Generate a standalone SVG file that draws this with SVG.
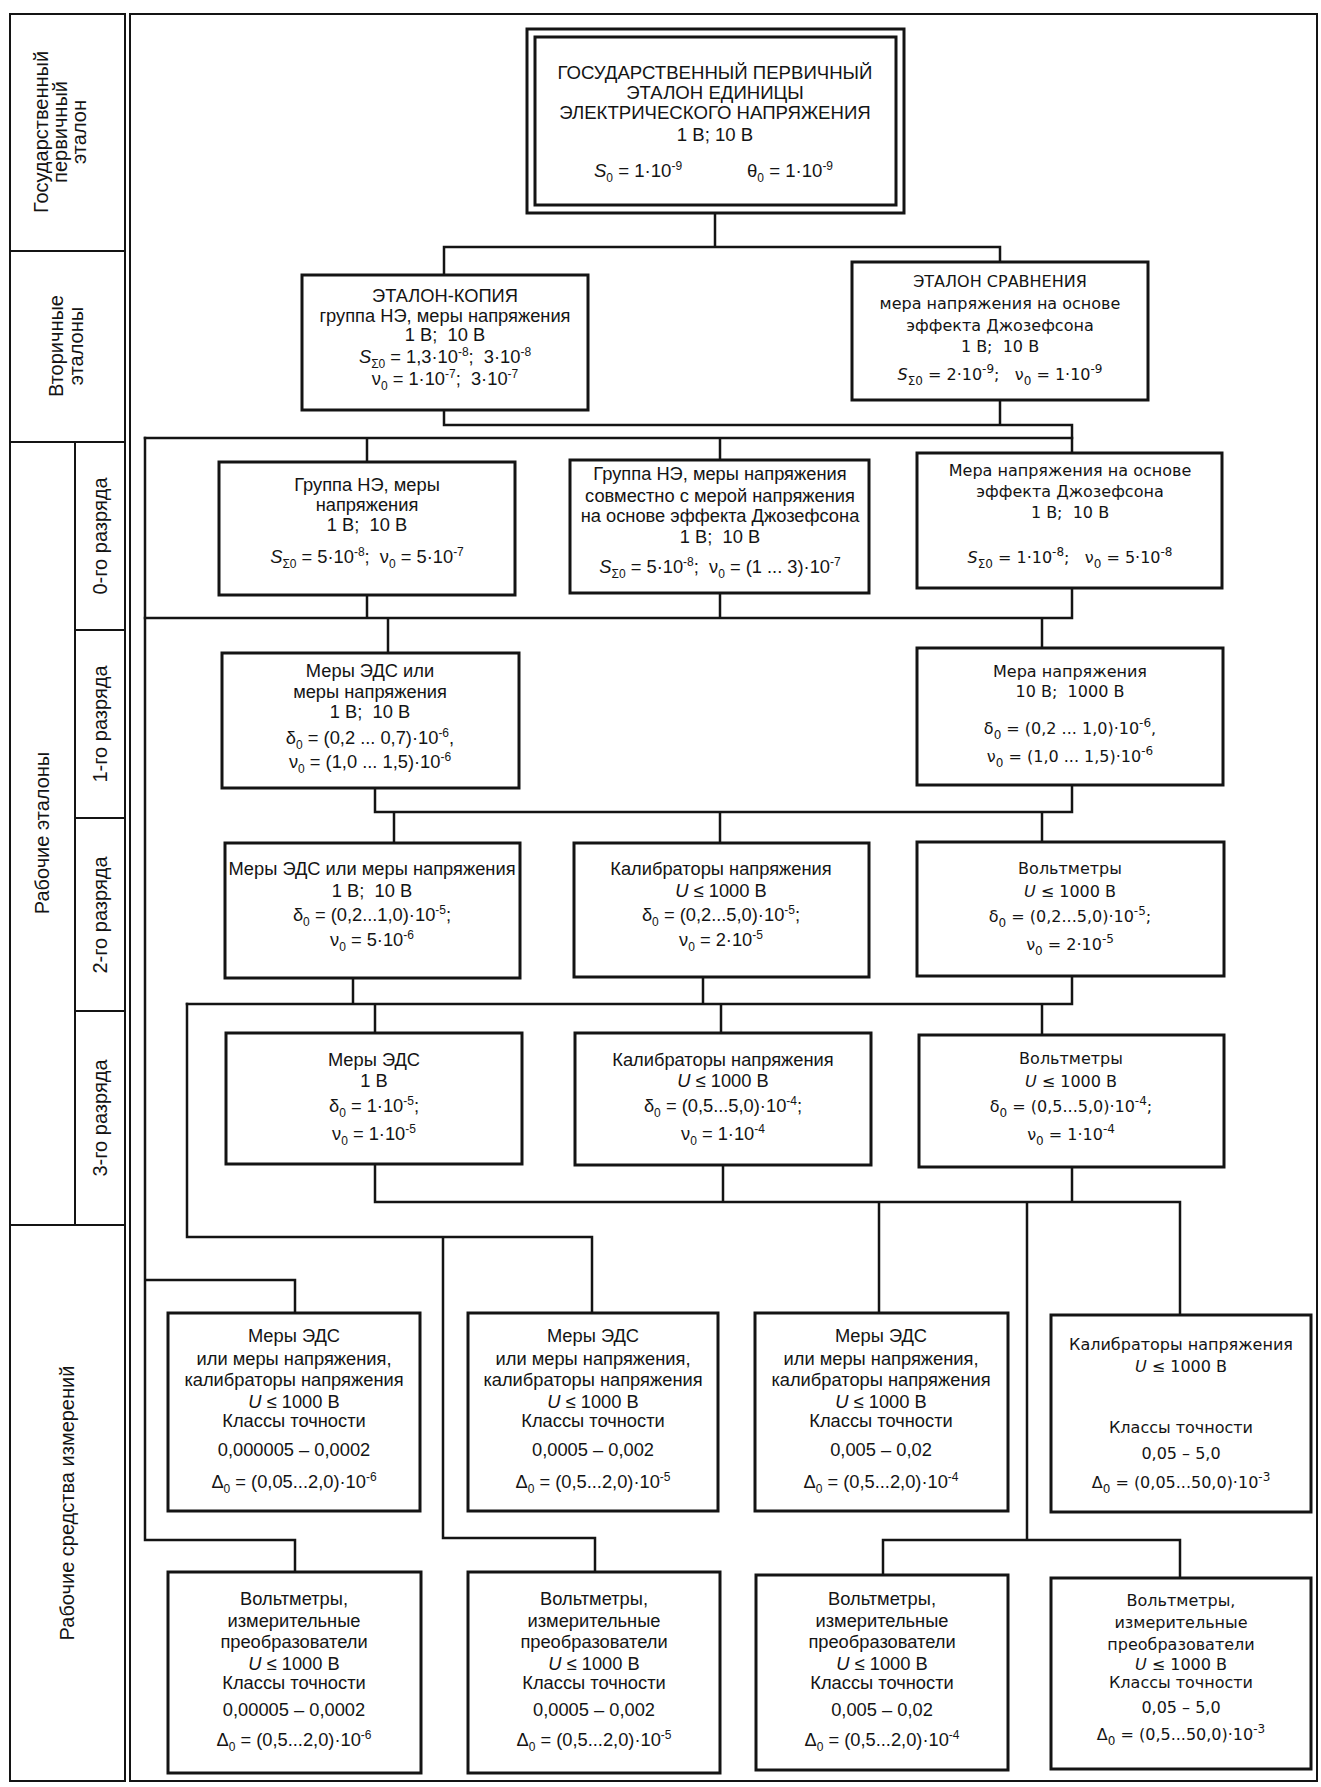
<svg xmlns="http://www.w3.org/2000/svg" width="1321" height="1787" viewBox="0 0 1321 1787">
<style>
text{font-family:"Liberation Sans",Arial,sans-serif;fill:#141414;text-anchor:middle}
.bx{fill:#fff;stroke:#141414;stroke-width:3}
.cn{fill:none;stroke:#141414;stroke-width:2.5;stroke-linecap:square}
.fr{fill:none;stroke:#141414;stroke-width:2}
.t{font-size:18.3px}
.tt{font-size:18.6px}
.w{font-family:"DejaVu Sans",sans-serif;font-size:16px}
.lc{font-size:20px}
.sp{font-size:12px;baseline-shift:7px}
.sb{font-size:12px;baseline-shift:-5px}
.i{font-style:italic}
</style>
<rect x="0" y="0" width="1321" height="1787" fill="#fff"/>
<g id="frame">
<rect class="fr" x="10" y="14" width="115" height="1767"/>
<rect class="fr" x="130" y="14" width="1187" height="1767"/>
<path class="fr" d="M10,251H125M10,442H125M75,442V1225M75,630H125M75,818H125M75,1011H125M10,1225H125"/>
<text class="lc" transform="translate(60,132) rotate(-90)"><tspan x="0" y="-12">Государственный</tspan><tspan x="0" y="7">первичный</tspan><tspan x="0" y="26">эталон</tspan></text>
<text class="lc" transform="translate(67,346) rotate(-90)"><tspan x="0" y="-4">Вторичные</tspan><tspan x="0" y="16">эталоны</tspan></text>
<text class="lc" transform="translate(42,833) rotate(-90)" y="7">Рабочие эталоны</text>
<text class="lc" transform="translate(100,536) rotate(-90)" y="7">0-го разряда</text>
<text class="lc" transform="translate(100,724) rotate(-90)" y="7">1-го разряда</text>
<text class="lc" transform="translate(100,915) rotate(-90)" y="7">2-го разряда</text>
<text class="lc" transform="translate(100,1118) rotate(-90)" y="7">3-го разряда</text>
<text class="lc" transform="translate(67,1503) rotate(-90)" y="7">Рабочие средства измерений</text>
</g>
<g id="connectors">
<path class="cn" d="M715,213V247M444,247H1000M444,247V275M1000,247V262"/>
<path class="cn" d="M444,410V425M1000,400V425M444,425H1072V453"/>
<path class="cn" d="M145,438H1072M367,438V462M720,438V460"/>
<path class="cn" d="M145,438V1540H295V1572M145,1280H295V1313"/>
<path class="cn" d="M367,595V618M720,593V618M1072,588V618M145,618H1072M388,618V653M1042,618V648"/>
<path class="cn" d="M375,788V812M1072,785V812M375,812H1072M394,812V843M720,812V843M1042,812V842"/>
<path class="cn" d="M353,978V1004M703,977V1004M1072,976V1004M187,1004H1072M375,1004V1033M721,1004V1033M1042,1004V1035"/>
<path class="cn" d="M187,1004V1237H592V1313M443,1237V1538H595V1572"/>
<path class="cn" d="M375,1164V1202M723,1165V1202M1072,1167V1202M375,1202H1180V1315M879,1202V1313M1027,1202V1540M883,1540H1180V1578M883,1540V1575"/>
</g>
<g id="n-primary">
<rect class="bx" x="527" y="29" width="377" height="184"/>
<rect class="bx" x="535" y="37" width="361" height="168" stroke-width="2.5"/>
<text class="tt" x="715" y="79">ГОСУДАРСТВЕННЫЙ ПЕРВИЧНЫЙ</text>
<text class="tt" x="715" y="99">ЭТАЛОН ЕДИНИЦЫ</text>
<text class="tt" x="715" y="119">ЭЛЕКТРИЧЕСКОГО НАПРЯЖЕНИЯ</text>
<text class="tt" x="715" y="141">1 В; 10 В</text>
<text class="tt" x="638" y="177"><tspan class="i">S</tspan><tspan class="sb">0</tspan> = 1·10<tspan class="sp">-9</tspan></text>
<text class="tt" x="790" y="177">θ<tspan class="sb">0</tspan> = 1·10<tspan class="sp">-9</tspan></text>
</g>
<g id="n-copy">
<rect class="bx" x="302" y="275" width="286" height="135"/>
<text class="t" x="445" y="302">ЭТАЛОН-КОПИЯ</text>
<text class="t" x="445" y="322">группа НЭ, меры напряжения</text>
<text class="t" x="445" y="341">1 В;&#160; 10 В</text>
<text class="t" x="445" y="363"><tspan class="i">S</tspan><tspan class="sb">Σ0</tspan> = 1,3·10<tspan class="sp">-8</tspan>;&#160; 3·10<tspan class="sp">-8</tspan></text>
<text class="t" x="445" y="385">ν<tspan class="sb">0</tspan> = 1·10<tspan class="sp">-7</tspan>;&#160; 3·10<tspan class="sp">-7</tspan></text>
</g>
<g id="n-comparison">
<rect class="bx" x="852" y="262" width="296" height="138"/>
<text class="w" x="1000" y="287">ЭТАЛОН СРАВНЕНИЯ</text>
<text class="w" x="1000" y="309">мера напряжения на основе</text>
<text class="w" x="1000" y="331">эффекта Джозефсона</text>
<text class="w" x="1000" y="352">1 В;&#160; 10 В</text>
<text class="w" x="1000" y="380"><tspan class="i">S</tspan><tspan class="sb">Σ0</tspan> = 2·10<tspan class="sp">-9</tspan>;&#160;&#160; ν<tspan class="sb">0</tspan> = 1·10<tspan class="sp">-9</tspan></text>
</g>
<g id="n-r0-1">
<rect class="bx" x="219" y="462" width="296" height="133"/>
<text class="t" x="367" y="491">Группа НЭ, меры</text>
<text class="t" x="367" y="511">напряжения</text>
<text class="t" x="367" y="531">1 В;&#160; 10 В</text>
<text class="t" x="367" y="563"><tspan class="i">S</tspan><tspan class="sb">Σ0</tspan> = 5·10<tspan class="sp">-8</tspan>;&#160; ν<tspan class="sb">0</tspan> = 5·10<tspan class="sp">-7</tspan></text>
</g>
<g id="n-r0-2">
<rect class="bx" x="570" y="460" width="299" height="133"/>
<text class="t" x="720" y="480">Группа НЭ, меры напряжения</text>
<text class="t" x="720" y="502">совместно с мерой напряжения</text>
<text class="t" x="720" y="522">на основе эффекта Джозефсона</text>
<text class="t" x="720" y="543">1 В;&#160; 10 В</text>
<text class="t" x="720" y="573"><tspan class="i">S</tspan><tspan class="sb">Σ0</tspan> = 5·10<tspan class="sp">-8</tspan>;&#160; ν<tspan class="sb">0</tspan> = (1 ... 3)·10<tspan class="sp">-7</tspan></text>
</g>
<g id="n-r0-3">
<rect class="bx" x="917" y="453" width="305" height="135"/>
<text class="w" x="1070" y="476">Мера напряжения на основе</text>
<text class="w" x="1070" y="497">эффекта Джозефсона</text>
<text class="w" x="1070" y="518">1 В;&#160; 10 В</text>
<text class="w" x="1070" y="563"><tspan class="i">S</tspan><tspan class="sb">Σ0</tspan> = 1·10<tspan class="sp">-8</tspan>;&#160;&#160; ν<tspan class="sb">0</tspan> = 5·10<tspan class="sp">-8</tspan></text>
</g>
<g id="n-r1-1">
<rect class="bx" x="222" y="653" width="297" height="135"/>
<text class="t" x="370" y="677">Меры ЭДС или</text>
<text class="t" x="370" y="698">меры напряжения</text>
<text class="t" x="370" y="718">1 В;&#160; 10 В</text>
<text class="t" x="370" y="744">δ<tspan class="sb">0</tspan> = (0,2 ... 0,7)·10<tspan class="sp">-6</tspan>,</text>
<text class="t" x="370" y="768">ν<tspan class="sb">0</tspan> = (1,0 ... 1,5)·10<tspan class="sp">-6</tspan></text>
</g>
<g id="n-r1-2">
<rect class="bx" x="917" y="648" width="306" height="137"/>
<text class="w" x="1070" y="677">Мера напряжения</text>
<text class="w" x="1070" y="697">10 В;&#160; 1000 В</text>
<text class="w" x="1070" y="734">δ<tspan class="sb">0</tspan> = (0,2 ... 1,0)·10<tspan class="sp">-6</tspan>,</text>
<text class="w" x="1070" y="762">ν<tspan class="sb">0</tspan> = (1,0 ... 1,5)·10<tspan class="sp">-6</tspan></text>
</g>
<g id="n-r2-1">
<rect class="bx" x="225" y="843" width="295" height="135"/>
<text class="t" x="372" y="875">Меры ЭДС или меры напряжения</text>
<text class="t" x="372" y="897">1 В;&#160; 10 В</text>
<text class="t" x="372" y="921">δ<tspan class="sb">0</tspan> = (0,2...1,0)·10<tspan class="sp">-5</tspan>;</text>
<text class="t" x="372" y="946">ν<tspan class="sb">0</tspan> = 5·10<tspan class="sp">-6</tspan></text>
</g>
<g id="n-r2-2">
<rect class="bx" x="574" y="843" width="295" height="134"/>
<text class="t" x="721" y="875">Калибраторы напряжения</text>
<text class="t" x="721" y="897"><tspan class="i">U</tspan> ≤ 1000 В</text>
<text class="t" x="721" y="921">δ<tspan class="sb">0</tspan> = (0,2...5,0)·10<tspan class="sp">-5</tspan>;</text>
<text class="t" x="721" y="946">ν<tspan class="sb">0</tspan> = 2·10<tspan class="sp">-5</tspan></text>
</g>
<g id="n-r2-3">
<rect class="bx" x="917" y="842" width="307" height="134"/>
<text class="w" x="1070" y="874">Вольтметры</text>
<text class="w" x="1070" y="897"><tspan class="i">U</tspan> ≤ 1000 В</text>
<text class="w" x="1070" y="922">δ<tspan class="sb">0</tspan> = (0,2...5,0)·10<tspan class="sp">-5</tspan>;</text>
<text class="w" x="1070" y="950">ν<tspan class="sb">0</tspan> = 2·10<tspan class="sp">-5</tspan></text>
</g>
<g id="n-r3-1">
<rect class="bx" x="226" y="1033" width="296" height="131"/>
<text class="t" x="374" y="1066">Меры ЭДС</text>
<text class="t" x="374" y="1087">1 В</text>
<text class="t" x="374" y="1112">δ<tspan class="sb">0</tspan> = 1·10<tspan class="sp">-5</tspan>;</text>
<text class="t" x="374" y="1140">ν<tspan class="sb">0</tspan> = 1·10<tspan class="sp">-5</tspan></text>
</g>
<g id="n-r3-2">
<rect class="bx" x="575" y="1033" width="296" height="132"/>
<text class="t" x="723" y="1066">Калибраторы напряжения</text>
<text class="t" x="723" y="1087"><tspan class="i">U</tspan> ≤ 1000 В</text>
<text class="t" x="723" y="1112">δ<tspan class="sb">0</tspan> = (0,5...5,0)·10<tspan class="sp">-4</tspan>;</text>
<text class="t" x="723" y="1140">ν<tspan class="sb">0</tspan> = 1·10<tspan class="sp">-4</tspan></text>
</g>
<g id="n-r3-3">
<rect class="bx" x="919" y="1035" width="305" height="132"/>
<text class="w" x="1071" y="1064">Вольтметры</text>
<text class="w" x="1071" y="1087"><tspan class="i">U</tspan> ≤ 1000 В</text>
<text class="w" x="1071" y="1112">δ<tspan class="sb">0</tspan> = (0,5...5,0)·10<tspan class="sp">-4</tspan>;</text>
<text class="w" x="1071" y="1140">ν<tspan class="sb">0</tspan> = 1·10<tspan class="sp">-4</tspan></text>
</g>
<g id="n-w1-1">
<rect class="bx" x="168" y="1313" width="252" height="198"/>
<text class="t" x="294" y="1342">Меры ЭДС</text>
<text class="t" x="294" y="1365">или меры напряжения,</text>
<text class="t" x="294" y="1386">калибраторы напряжения</text>
<text class="t" x="294" y="1408"><tspan class="i">U</tspan> ≤ 1000 В</text>
<text class="t" x="294" y="1427">Классы точности</text>
<text class="t" x="294" y="1456">0,000005 – 0,0002</text>
<text class="t" x="294" y="1488">Δ<tspan class="sb">0</tspan> = (0,05...2,0)·10<tspan class="sp">-6</tspan></text>
</g>
<g id="n-w1-2">
<rect class="bx" x="468" y="1313" width="250" height="198"/>
<text class="t" x="593" y="1342">Меры ЭДС</text>
<text class="t" x="593" y="1365">или меры напряжения,</text>
<text class="t" x="593" y="1386">калибраторы напряжения</text>
<text class="t" x="593" y="1408"><tspan class="i">U</tspan> ≤ 1000 В</text>
<text class="t" x="593" y="1427">Классы точности</text>
<text class="t" x="593" y="1456">0,0005 – 0,002</text>
<text class="t" x="593" y="1488">Δ<tspan class="sb">0</tspan> = (0,5...2,0)·10<tspan class="sp">-5</tspan></text>
</g>
<g id="n-w1-3">
<rect class="bx" x="755" y="1313" width="253" height="198"/>
<text class="t" x="881" y="1342">Меры ЭДС</text>
<text class="t" x="881" y="1365">или меры напряжения,</text>
<text class="t" x="881" y="1386">калибраторы напряжения</text>
<text class="t" x="881" y="1408"><tspan class="i">U</tspan> ≤ 1000 В</text>
<text class="t" x="881" y="1427">Классы точности</text>
<text class="t" x="881" y="1456">0,005 – 0,02</text>
<text class="t" x="881" y="1488">Δ<tspan class="sb">0</tspan> = (0,5...2,0)·10<tspan class="sp">-4</tspan></text>
</g>
<g id="n-w1-4">
<rect class="bx" x="1051" y="1315" width="260" height="197"/>
<text class="w" x="1181" y="1350">Калибраторы напряжения</text>
<text class="w" x="1181" y="1372"><tspan class="i">U</tspan> ≤ 1000 В</text>
<text class="w" x="1181" y="1433">Классы точности</text>
<text class="w" x="1181" y="1459">0,05 – 5,0</text>
<text class="w" x="1181" y="1488">Δ<tspan class="sb">0</tspan> = (0,05...50,0)·10<tspan class="sp">-3</tspan></text>
</g>
<g id="n-w2-1">
<rect class="bx" x="168" y="1572" width="253" height="201"/>
<text class="t" x="294" y="1605">Вольтметры,</text>
<text class="t" x="294" y="1627">измерительные</text>
<text class="t" x="294" y="1648">преобразователи</text>
<text class="t" x="294" y="1670"><tspan class="i">U</tspan> ≤ 1000 В</text>
<text class="t" x="294" y="1689">Классы точности</text>
<text class="t" x="294" y="1716">0,00005 – 0,0002</text>
<text class="t" x="294" y="1746">Δ<tspan class="sb">0</tspan> = (0,5...2,0)·10<tspan class="sp">-6</tspan></text>
</g>
<g id="n-w2-2">
<rect class="bx" x="468" y="1572" width="252" height="201"/>
<text class="t" x="594" y="1605">Вольтметры,</text>
<text class="t" x="594" y="1627">измерительные</text>
<text class="t" x="594" y="1648">преобразователи</text>
<text class="t" x="594" y="1670"><tspan class="i">U</tspan> ≤ 1000 В</text>
<text class="t" x="594" y="1689">Классы точности</text>
<text class="t" x="594" y="1716">0,0005 – 0,002</text>
<text class="t" x="594" y="1746">Δ<tspan class="sb">0</tspan> = (0,5...2,0)·10<tspan class="sp">-5</tspan></text>
</g>
<g id="n-w2-3">
<rect class="bx" x="756" y="1575" width="252" height="195"/>
<text class="t" x="882" y="1605">Вольтметры,</text>
<text class="t" x="882" y="1627">измерительные</text>
<text class="t" x="882" y="1648">преобразователи</text>
<text class="t" x="882" y="1670"><tspan class="i">U</tspan> ≤ 1000 В</text>
<text class="t" x="882" y="1689">Классы точности</text>
<text class="t" x="882" y="1716">0,005 – 0,02</text>
<text class="t" x="882" y="1746">Δ<tspan class="sb">0</tspan> = (0,5...2,0)·10<tspan class="sp">-4</tspan></text>
</g>
<g id="n-w2-4">
<rect class="bx" x="1051" y="1578" width="260" height="191"/>
<text class="w" x="1181" y="1606">Вольтметры,</text>
<text class="w" x="1181" y="1628">измерительные</text>
<text class="w" x="1181" y="1650">преобразователи</text>
<text class="w" x="1181" y="1670"><tspan class="i">U</tspan> ≤ 1000 В</text>
<text class="w" x="1181" y="1688">Классы точности</text>
<text class="w" x="1181" y="1713">0,05 – 5,0</text>
<text class="w" x="1181" y="1740">Δ<tspan class="sb">0</tspan> = (0,5...50,0)·10<tspan class="sp">-3</tspan></text>
</g>
</svg>
